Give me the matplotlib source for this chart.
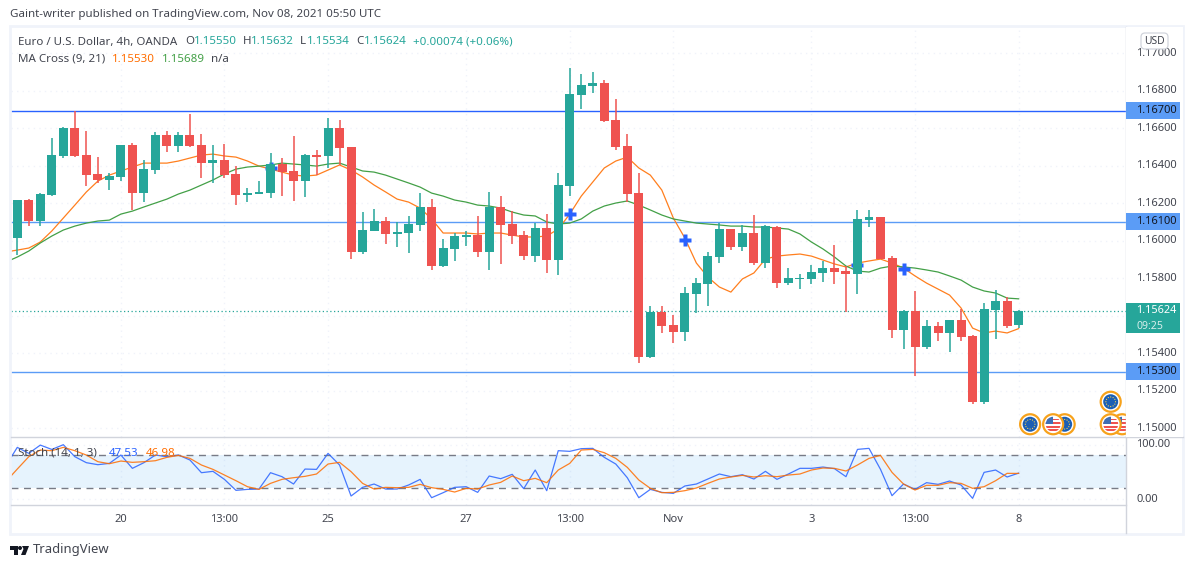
import matplotlib
matplotlib.use('Agg')
import matplotlib.pyplot as plt
import matplotlib.patches as mpatches
from matplotlib.transforms import Affine2D, IdentityTransform
import numpy as np

### Data
bar_open = [1.16013,1.16216,1.16106,1.16243,1.16452,1.16600,1.16456,1.16355,1.16323,1.16339,1.16509,1.16253,1.16376,1.16563,1.16504,1.16563,1.16509,1.16413,1.16429,1.16355,1.16243,1.16248,
            1.16253,1.16408,1.16371,1.16317,1.16456,1.16451,1.16600,1.16499,1.15939,1.16051,1.16104,1.16035,1.16040,1.16083,1.16179,1.15864,1.15955,1.16019,1.16029,1.15939,1.16179,1.16088,
            1.16029,1.15917,1.16067,1.15896,1.16291,1.16776,1.16824,1.16840,1.16643,1.16504,1.16253,1.15379,1.15619,1.15549,1.15512,1.15715,1.15768,1.15912,1.16061,1.15965,1.16040,1.15880,
            1.16072,1.15773,1.15795,1.15795,1.15827,1.15853,1.15837,1.15821,1.16109,1.16125,1.15907,1.15523,1.15624,1.15432,1.15544,1.15507,1.15576,1.15491,1.15139,1.15629,1.15677,1.15550]
bar_high = [1.16216,1.16221,1.16255,1.16547,1.16605,1.16691,1.16584,1.16445,1.16360,1.16509,1.16520,1.16429,1.16579,1.16584,1.16579,1.16675,1.16568,1.16509,1.16515,1.16397,1.16280,1.16317,
            1.16467,1.16440,1.16557,1.16461,1.16483,1.16653,1.16643,1.16499,1.16152,1.16168,1.16125,1.16099,1.16131,1.16253,1.16221,1.16008,1.16040,1.16051,1.16131,1.16259,1.16237,1.16157,
            1.16051,1.16093,1.16141,1.16360,1.16920,1.16888,1.16899,1.16856,1.16755,1.16568,1.16360,1.15651,1.15651,1.15603,1.15752,1.15800,1.15939,1.16093,1.16061,1.16083,1.16136,1.16083,
            1.16077,1.15853,1.15821,1.15869,1.15891,1.15976,1.15864,1.16163,1.16163,1.16125,1.15917,1.15629,1.15731,1.15576,1.15565,1.15576,1.15635,1.15496,1.15667,1.15736,1.15699,1.15632]
bar_low = [1.15923,1.16077,1.16077,1.16237,1.16442,1.16447,1.16291,1.16307,1.16269,1.16317,1.16163,1.16205,1.16355,1.16472,1.16472,1.16499,1.16333,1.16307,1.16333,1.16189,1.16205,1.16248,
           1.16227,1.16237,1.16211,1.16232,1.16349,1.16387,1.16403,1.15901,1.15928,1.16051,1.15981,1.15965,1.15933,1.16051,1.15843,1.15859,1.15891,1.15971,1.15912,1.15843,1.15875,1.15981,
           1.15896,1.15885,1.15827,1.15816,1.16237,1.16701,1.16787,1.16632,1.16483,1.16205,1.15347,1.15373,1.15507,1.15453,1.15464,1.15613,1.15651,1.15880,1.15949,1.15944,1.15869,1.15853,
           1.15747,1.15763,1.15741,1.15768,1.15779,1.15768,1.15619,1.15715,1.16072,1.15901,1.15480,1.15421,1.15277,1.15421,1.15464,1.15405,1.15464,1.15128,1.15128,1.15475,1.15533,1.15534]
bar_close = [1.16216,1.16106,1.16248,1.16456,1.16600,1.16452,1.16349,1.16323,1.16344,1.16509,1.16253,1.16381,1.16563,1.16504,1.16563,1.16504,1.16413,1.16429,1.16349,1.16243,1.16253,1.16259,
             1.16408,1.16365,1.16317,1.16456,1.16448,1.16600,1.16493,1.15939,1.16056,1.16104,1.16035,1.16045,1.16088,1.16179,1.15864,1.15960,1.16024,1.16029,1.15939,1.16179,1.16083,1.16024,
             1.15917,1.16067,1.15896,1.16296,1.16781,1.16829,1.16840,1.16637,1.16499,1.16248,1.15379,1.15619,1.15544,1.15512,1.15720,1.15773,1.15917,1.16061,1.15965,1.16040,1.15880,1.16077,
             1.15773,1.15800,1.15800,1.15832,1.15853,1.15832,1.15821,1.16115,1.16125,1.15901,1.15523,1.15624,1.15432,1.15544,1.15507,1.15576,1.15485,1.15139,1.15635,1.15677,1.15544,1.15624]

# first value of the indicator lists belongs to the bar just left of the pane
ma_fast = [1.15939,1.15949,1.15960,1.15992,1.16051,1.16120,1.16189,1.16259,1.16317,1.16349,1.16371,1.16392,1.16413,1.16413,1.16413,1.16424,1.16440,1.16456,1.16461,1.16451,1.16445,1.16424,1.16397,
           1.16381,1.16365,1.16349,1.16344,1.16349,1.16376,1.16403,1.16376,1.16339,1.16296,1.16259,1.16221,1.16205,1.16173,1.16115,1.16040,1.16040,1.16040,1.16035,1.16040,1.16040,1.16029,
           1.16019,1.16019,1.16024,1.16061,1.16141,1.16237,1.16312,1.16387,1.16424,1.16445,1.16387,1.16349,1.16269,1.16120,1.16013,1.15880,1.15805,1.15752,1.15725,1.15795,1.15827,1.15901,
           1.15917,1.15923,1.15928,1.15917,1.15896,1.15875,1.15859,1.15880,1.15891,1.15901,1.15880,1.15853,1.15811,1.15773,1.15741,1.15709,1.15640,1.15533,1.15507,1.15517,1.15507,1.15530]
ma_slow = [1.15885,1.15912,1.15944,1.15987,1.16024,1.16056,1.16077,1.16093,1.16104,1.16109,1.16141,1.16157,1.16179,1.16200,1.16221,1.16248,1.16269,1.16296,1.16323,1.16355,1.16381,1.16392,1.16397,
           1.16403,1.16413,1.16408,1.16403,1.16397,1.16408,1.16413,1.16392,1.16371,1.16365,1.16349,1.16328,1.16307,1.16285,1.16253,1.16237,1.16216,1.16205,1.16189,1.16184,1.16173,1.16152,
           1.16136,1.16131,1.16099,1.16088,1.16093,1.16115,1.16157,1.16184,1.16200,1.16211,1.16189,1.16163,1.16136,1.16115,1.16104,1.16093,1.16088,1.16083,1.16077,1.16077,1.16072,1.16072,
           1.16067,1.16061,1.16035,1.15992,1.15955,1.15912,1.15864,1.15837,1.15832,1.15853,1.15864,1.15859,1.15853,1.15843,1.15832,1.15811,1.15789,1.15752,1.15731,1.15720,1.15693,1.15689]

stoch_k = [61,94.8,83.8,99,91,99.7,77.7,66.7,63,65.4,80.7,56.3,66.7,80.7,77.7,80.7,71.6,48.3,50.8,36,15.9,17.7,18.3,48.3,41,27.5,55,54.4,83.8,62.4,5.5,21.4,27.5,18.3,18.3,25.7,36,2.4,11.6,21.4,22.6,
           12.2,42.2,37.3,45.3,19,53.2,15.3,88.7,87.5,92.4,93,76.5,64.2,39.1,2.4,17.7,12.2,10.4,23.9,27.5,36.7,45.9,41,44.6,36.7,50.8,36.1,45.9,56.3,56.3,58.7,55.7,41,91.1,93,54.4,6.1,27.5,
           17.7,30,26.9,33,25.7,1.2,48.9,53.2,40.4,47.53]
stoch_d = [31.8,55,77.7,89.9,88.7,94.8,88.7,80.7,68.5,64.8,69.7,67.3,68.5,70.3,76.5,80.1,74.6,62.4,54.4,44,33.6,22.6,17.7,28.7,36.1,39.1,41.6,45.9,64.2,67.3,50.2,28.7,18.3,21.4,20.8,21.4,26.9,20.8,
           17.7,12.8,19.6,18.3,25.7,30.6,42.2,33.6,37.9,30,53.2,65.4,89.9,91.1,85,74.6,58.1,34.9,19.6,11.6,12.2,15.3,20.2,28.7,36.7,40.4,43.4,40.4,42.8,41,44,45.9,53.2,56.9,56.3,51.4,62.4,
           74.6,80.1,48.9,27.5,16.5,25.1,25.1,30,28.7,19.6,22.6,33.6,47.1,46.98]

cross_bars = [22,48,58,73,77]
cross_prices = [1.16387,1.16141,1.16003,1.15869,1.15848]

level_prices = [1.16693,1.16100,1.15300]
level_colors = ['#2962ff','#5b9cf6','#5b9cf6']
level_labels = ['1.16700','1.16100','1.15300']

grid_ticks = [1.150,1.152,1.154,1.156,1.158,1.160,1.162,1.164,1.166,1.168,1.170]
# 1.15600 is hidden behind the last price tag in the reference
price_ticks = [1.150,1.152,1.154,1.158,1.160,1.162,1.164,1.166,1.168,1.170]
time_ticks = [9,18,27,39,48,57,69,78,87]
time_labels = ['20','13:00','25','27','13:00','Nov','3','13:00','8']

# later entries sit on top of earlier ones
event_bars = [88,91,90,96,95,95]
event_prices = [1.15020,1.15020,1.15020,1.15020,1.15020,1.15140]
event_types = ['eu','eu','us','us','us','eu']

### Style
W,H = 1194,568
GREEN,RED = '#26a69a','#ef5350'
TEXT,AXIS = '#42454f','#d1d4dc'
plt.rcParams['font.family'] = ['Noto Sans','DejaVu Sans']

def box(x0,y0,x1,y1):
    # pixel box, measured from the top left of the image
    return [x0/W,1-y1/H,(x1-x0)/W,(y1-y0)/H]

def label(x,y,s,color=TEXT,size=8.3,**kw):
    fig.text(x/W,1-y/H,s,color=color,fontsize=size,va='center',**kw)

fig = plt.figure(figsize=(W/100,H/100),dpi=100,facecolor='white')
fig.patches.append(mpatches.Rectangle((10/W,1-534/H),1173/W,508/H,transform=fig.transFigure,fc='none',ec='#f0f3fa',lw=2))

ax = fig.add_axes(box(11,27,1126,437),zorder=1)
ax2 = fig.add_axes(box(11,438,1126,505),zorder=1)
rax = fig.add_axes(box(1126,27,1183,437),zorder=2)
rax2 = fig.add_axes(box(1126,438,1183,505),zorder=2)
tax = fig.add_axes(box(11,506,1126,533),zorder=1)

xlim = (-0.547,96.33)
bars = np.arange(len(bar_open))
ind_x = np.arange(-1,len(bar_open))
opens,highs,lows,closes = map(np.array,(bar_open,bar_high,bar_low,bar_close))

### Price pane
colors = [GREEN if c>=o else RED for o,c in zip(opens,closes)]
for t in time_ticks:
    ax.axvline(t,color='#f0f3fa',lw=1,ls=(0,(1,3)),zorder=0)
    ax2.axvline(t,color='#f0f3fa',lw=1,ls=(0,(1,3)),zorder=0)
for p in grid_ticks:
    ax.axhline(p,color='#f0f3fa',lw=1,ls=(0,(1,3)),zorder=0)
for p,c in zip(level_prices,level_colors):
    ax.axhline(p,color=c,lw=1,zorder=1)
ax.axhline(bar_close[-1],color=GREEN,lw=0.9,ls=(0,(1,2)),zorder=1)
ax.plot(ind_x,ma_fast,color='#ff7f1e',lw=0.9,zorder=2)
ax.plot(ind_x,ma_slow,color='#43a047',lw=0.9,zorder=2)
ax.plot(cross_bars,cross_prices,ls='none',marker='P',ms=9,mfc='#2962ff',mec='none',zorder=2.5)
ax.vlines(bars,lows,highs,colors=colors,lw=1.1,zorder=3)
ax.bar(bars,np.maximum(np.abs(closes-opens),0.00004),bottom=np.minimum(opens,closes),width=0.78,color=colors,zorder=3)
ax.set_xlim(xlim)
ax.set_ylim(1.14952,1.17139)
ax.axis('off')
fig.canvas.draw()

### Event badges, drawn in screen pixels around their data position
def badge(i,price,kind,z):
    px,py = ax.transData.transform((i,price))
    tr = Affine2D().translate(px,py)
    ax.add_patch(mpatches.Circle((0,0),10,fc='white',ec='#f7a21b',lw=1.6,transform=tr,zorder=z))
    inner = mpatches.Circle((0,0),7.5,fc='#1c5fb4' if kind=='eu' else 'white',ec='none',transform=tr,zorder=z)
    ax.add_patch(inner)
    if kind=='eu':
        for a in np.arange(0,360,30)*np.pi/180:
            ax.add_patch(mpatches.Circle((4.8*np.cos(a),4.8*np.sin(a)),0.6,fc='#ffd54f',ec='none',transform=tr,zorder=z))
    else:
        for k in range(4):
            s = mpatches.Rectangle((-8,-7+3.6*k),16,1.8,fc='#ef5350',ec='none',transform=tr,zorder=z)
            ax.add_patch(s)
            s.set_clip_path(inner)
        c = mpatches.Rectangle((-8,0),8,8,fc='#3f6fb5',ec='none',transform=tr,zorder=z)
        ax.add_patch(c)
        c.set_clip_path(inner)

for n,(i,p,k) in enumerate(zip(event_bars,event_prices,event_types)):
    badge(i,p,k,5+n)

### Right price scale
rax.set_ylim(ax.get_ylim())
rax.set_xlim(0,57)
rax.axis('off')
rax.add_patch(mpatches.Rectangle((0,ax.get_ylim()[0]),57,ax.get_ylim()[1]-ax.get_ylim()[0],fc='white',ec='none',zorder=0))
for p in price_ticks:
    rax.text(10.5,p,'%.5f'%p,color=TEXT,fontsize=8,va='center',zorder=1)
for p,s in zip(level_prices,level_labels):
    rax.add_patch(mpatches.Rectangle((0,p-0.00046),54,0.00092,fc='#5b9cf6',ec='none',zorder=2))
    rax.text(10.5,p,s,color='#131722',fontsize=8,va='center',zorder=3)
rax.add_patch(mpatches.Rectangle((0,bar_close[-1]-0.00117),54,0.00160,fc=GREEN,ec='none',zorder=2))
rax.text(10.5,bar_close[-1]+0.00003,'%.5f'%bar_close[-1],color='white',fontsize=7.8,fontweight='bold',va='center',zorder=3)
rax.text(10.5,bar_close[-1]-0.00080,'09:25',color='#d5eeeb',fontsize=7.6,va='center',zorder=3)

# currency button, on top of the clipped 1.17000 label
fig.add_artist(mpatches.FancyBboxPatch((1141,H-49),27,16,boxstyle='round,pad=0,rounding_size=4',fc='white',ec=AXIS,lw=0.9,transform=IdentityTransform(),zorder=10))
label(1154,41,'USD',size=7.4,ha='center',zorder=11)

### Stochastic pane
ax2.axhspan(20,80,color='#2196f3',alpha=0.11,lw=0,zorder=0)
ax2.axhline(80,color='#787b86',lw=1,ls=(0,(5,4)),zorder=1)
ax2.axhline(20,color='#787b86',lw=1,ls=(0,(5,4)),zorder=1)
ax2.axhline(100,color='#f0f3fa',lw=1,ls=(0,(1,3)),zorder=0)
ax2.axhline(0,color='#f0f3fa',lw=1,ls=(0,(1,3)),zorder=0)
ax2.plot(ind_x,stoch_k,color='#2962ff',lw=0.9,alpha=0.85,zorder=2)
ax2.plot(ind_x,stoch_d,color='#ff6d00',lw=0.9,alpha=0.85,zorder=2)
ax2.set_xlim(xlim)
ax2.set_ylim(-11,112)
ax2.axis('off')
rax2.set_ylim(ax2.get_ylim())
rax2.set_xlim(0,57)
rax2.axis('off')
for v in [100,0]:
    rax2.text(10.5,v,'%.2f'%v,color=TEXT,fontsize=8,va='center')

### Time axis
tax.set_xlim(xlim)
tax.set_ylim(0,1)
tax.axis('off')
for t,s in zip(time_ticks,time_labels):
    tax.text(t,0.5,s,color=TEXT,fontsize=8,ha='center',va='center')

### Pane separators
for x0,y0,x1,y1 in [(11,437,1126,437),(11,505,1126,505),(1126,27,1126,533),(1126,437,1183,437)]:
    fig.add_artist(plt.Line2D([x0/W,x1/W],[1-y0/H,1-y1/H],color=AXIS,lw=1))

### Texts
label(10,14,'Gaint-writer published on TradingView.com, Nov 08, 2021 05:50 UTC')
label(18,42,'Euro / U.S. Dollar, 4h, OANDA')
for x,s in [(185,'O'),(243,'H'),(300,'L'),(356,'C')]:
    label(x,42,s)
for x,s in [(194,'1.15550'),(251,'1.15632'),(307,'1.15534'),(364,'1.15624'),(413,'+0.00074 (+0.06%)')]:
    label(x,42,s,color=GREEN)
label(18,59,'MA Cross (9, 21)')
label(112,59,'1.15530',color='#ff6d00')
label(162,59,'1.15689',color='#43a047')
label(211,59,'n/a')
label(18,453,'Stoch (14, 1, 3)')
label(109,453,'47.53',color='#2962ff')
label(146,453,'46.98',color='#ff6d00')
label(33,550,'TradingView',size=9.4)

### Logo
logo = [[(10,546),(17.5,546),(17.5,555),(13.5,555),(13.5,549.5),(10,549.5)],
        [(22,546),(29,546),(25.5,555),(21,555),(23.5,549)]]
for pts in logo:
    fig.patches.append(mpatches.Polygon([(x/W,1-y/H) for x,y in pts],transform=fig.transFigure,fc='#131722',ec='none'))
fig.patches.append(mpatches.Ellipse((20/W,1-548/H),4/W,4/H,transform=fig.transFigure,fc='#131722',ec='none'))

plt.savefig('out.png',dpi=100)
